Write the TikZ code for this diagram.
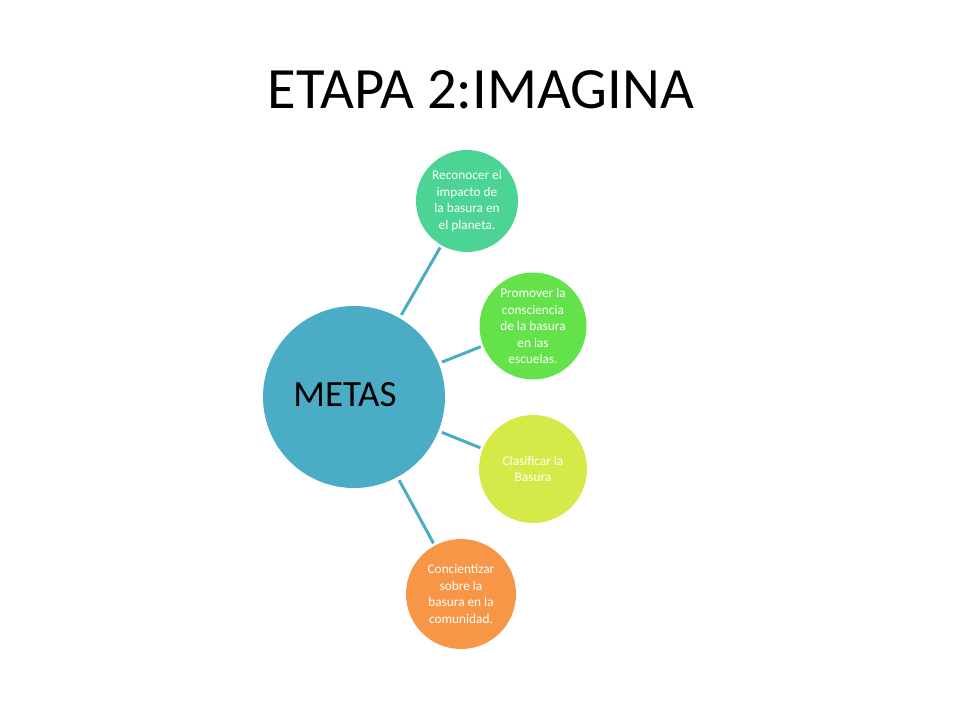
\documentclass[tikz,border=0pt]{standalone}
\usepackage{fontspec}
\setmainfont{Carlito}
\definecolor{hubblue}{RGB}{75,172,198}
\definecolor{linkblue}{RGB}{75,172,198}
\definecolor{gteal}{RGB}{75,212,147}
\definecolor{ggreen}{RGB}{99,226,74}
\definecolor{glime}{RGB}{213,234,72}
\definecolor{gorange}{RGB}{247,150,70}
\begin{document}
\begin{tikzpicture}[x=1pt,y=-1pt,
  hub/.style={circle, fill=hubblue, minimum size=182pt, inner sep=0pt},
  goal/.style={circle, inner sep=0pt, text=white, align=center,
    font=\fontsize{13.3}{16.5}\selectfont},
  link/.style={draw=linkblue, line width=3pt, shorten <=3.5pt, shorten >=2.5pt}
]
\useasboundingbox (0,0) rectangle (960,720);
\fill[white] (0,0) rectangle (960,720);
\node[font=\fontsize{58.5}{66}\selectfont] (title) at (481,90) {ETAPA 2:IMAGINA};
\node[hub] (hub) at (354,397) {};
\node[font=\fontsize{37}{44}\selectfont] (metas) at (345,395) {METAS};
\node[goal, fill=gteal, minimum size=102pt] (g1) at (467,201) {Reconocer el\\impacto de\\la basura en\\el planeta.};
\node[goal, fill=ggreen, minimum size=107pt] (g2) at (533,326) {Promover la\\consciencia\\de la basura\\en las\\escuelas.};
\node[goal, fill=glime, minimum size=108pt] (g3) at (533,469) {Clasificar la\\Basura};
\node[goal, fill=gorange, minimum size=110pt] (g4) at (461,594) {Concientizar\\sobre la\\basura en la\\comunidad.};
\draw[link] (hub) -- (g1);
\draw[link] (hub) -- (g2);
\draw[link] (hub) -- (g3);
\draw[link] (hub) -- (g4);
\end{tikzpicture}
\end{document}
